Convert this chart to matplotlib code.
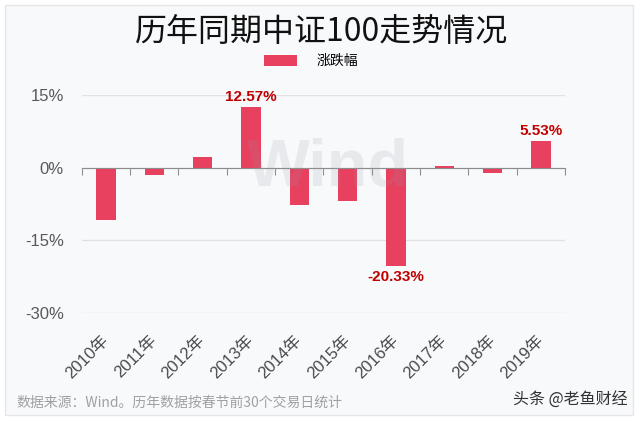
import numpy as np
import matplotlib
matplotlib.use("Agg")
import matplotlib.pyplot as plt
from matplotlib.patches import Rectangle, Patch

plt.rcParams["font.family"] = ["Liberation Sans", "Noto Sans CJK SC", "DejaVu Sans"]
plt.rcParams["axes.unicode_minus"] = False

# 数据
years = ["2010年", "2011年", "2012年", "2013年", "2014年",
         "2015年", "2016年", "2017年", "2018年", "2019年"]
change = [-10.7, -1.6, 2.2, 12.57, -7.8, -6.9, -20.33, 0.35, -1.1, 5.53]
labeled = {3: "12.57%", 6: "-20.33%", 9: "5.53%"}
yticks = [-30, -15, 0, 15]

BAR = "#e8405f"
W, H = 640, 421

fig = plt.figure(figsize=(6.4, 4.21), dpi=100)
fig.patch.set_facecolor("white")
fig.add_artist(Rectangle((5 / W, 1 - 415 / H), 628 / W, 410 / H, transform=fig.transFigure,
                         fc="#f8f9fb", ec="#e6e6e8", lw=1, zorder=0))

ax = fig.add_axes([81.7 / W, 1 - 313.3 / H, (565 - 81.7) / W, (313.3 - 94.7) / H])
ax.set_facecolor("none")
x = np.arange(len(years))
ax.bar(x, change, width=0.4, color=BAR, zorder=3)
ax.set_xlim(-0.5, len(years) - 0.5)
ax.set_ylim(-30, 15)

# y 轴
ax.set_yticks(yticks)
ax.set_yticklabels([f"{v}%" for v in yticks], fontsize=12, color="#595959")
ax.tick_params(axis="y", length=0, pad=13)
ax.yaxis.grid(True, color="#e2e2e4", lw=1, zorder=0)

# 零轴 + 分隔刻度
for s in ["top", "right", "left"]:
    ax.spines[s].set_visible(False)
ax.spines["bottom"].set_position(("data", 0))
ax.spines["bottom"].set_color("#8c8c8c")
ax.spines["bottom"].set_zorder(4)
ax.set_xticks(np.arange(-0.5, len(years), 1.0))
ax.set_xticklabels([])
ax.tick_params(axis="x", length=5, color="#8c8c8c", direction="out")

# 年份标签
for i, yr in enumerate(years):
    ax.annotate(yr, xy=(i, -30), xytext=(4, -14), textcoords="offset points",
                ha="right", va="top", rotation=45, fontsize=12, color="#4a4a4a",
                annotation_clip=False)

# 数值标注
for i, txt in labeled.items():
    v = change[i]
    ax.annotate(txt, xy=(i, v), xytext=(0, 2 if v > 0 else -3), textcoords="offset points",
                ha="center", va="bottom" if v > 0 else "top", fontsize=11,
                fontweight="bold", color="#c00000", annotation_clip=False, zorder=5)

# Wind 水印
fig.text(328 / W, 1 - 168 / H, "Wind", fontsize=48, fontweight="bold",
         color="#9a9aa0", alpha=0.16, ha="center", va="center", zorder=6)

# 标题与图例
fig.text(322 / W, 1 - 32 / H, "历年同期中证100走势情况", fontsize=23,
         color="#111111", ha="center", va="center",
         family=["Noto Sans CJK SC", "DejaVu Sans"])
fig.legend(handles=[Patch(fc=BAR)], labels=["涨跌幅"], loc="center",
           bbox_to_anchor=(311 / W, 1 - 61 / H), frameon=False,
           handlelength=2.4, handleheight=0.85, handletextpad=1.4,
           prop={"family": ["Noto Sans CJK SC"], "size": 10})

# 底部说明
fig.text(16 / W, 1 - 403 / H, "数据来源：Wind。历年数据按春节前30个交易日统计",
         fontsize=10, color="#a0a0a0", ha="left", va="center",
         family=["Noto Sans CJK SC", "DejaVu Sans"])
fig.text(628 / W, 1 - 400 / H, "头条 @老鱼财经", fontsize=11.5, color="#333333",
         ha="right", va="center", family=["Noto Sans CJK SC", "DejaVu Sans"])

fig.savefig("out.png", dpi=100)
plt.close(fig)
